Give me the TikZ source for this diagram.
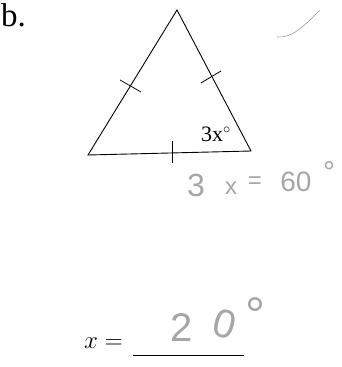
\documentclass[tikz,border=0pt]{standalone}
\usepackage{fontspec}
\setmainfont{Liberation Serif}
\newfontfamily\handfont{Liberation Sans}
\begin{document}
\begin{tikzpicture}[x=1pt,y=-1pt,
  edge/.style={line width=0.9pt},
  tick/.style={line width=0.8pt},
  hand/.style={text=black!35, font=\handfont\fontsize{24}{24}\selectfont, inner sep=0pt}]
\useasboundingbox (0,0) rectangle (342,367);
% vertices
\coordinate (T) at (177,10);
\coordinate (L) at (88,155);
\coordinate (R) at (251,151);
\draw[edge, line join=miter] (T) -- (R) -- (L) -- cycle;
% tick marks
\coordinate (tl1) at (120,80); \coordinate (tl2) at (141,92);
\draw[tick] (tl1) -- (tl2);
\coordinate (tr1) at (201,83); \coordinate (tr2) at (221,71);
\draw[tick] (tr1) -- (tr2);
\coordinate (tb1) at (172,141); \coordinate (tb2) at (172,163);
\draw[tick] (tb1) -- (tb2);
% labels
\node[anchor=west, inner sep=0pt, font=\fontsize{33}{33}\selectfont] (b) at (1,15) {b.};
\node[inner sep=0pt, font=\fontsize{22}{22}\selectfont] (ang) at (216,134) {3x$^{\circ}$};
\node[anchor=base west, inner sep=0pt, font=\fontsize{25}{25}\selectfont] (xeq) at (84,348) {$x =$};
\coordinate (ln1) at (133,355); \coordinate (ln2) at (244,355);
\draw[line width=0.7pt] (ln1) -- (ln2);
% handwriting (faint)
\node[hand, font=\handfont\fontsize{32}{32}\selectfont] (h1a) at (196,185) {3};
\node[hand] (h1b) at (231,188) {x};
\node[hand] (h1c) at (255,183) {=};
\node[hand, font=\handfont\fontsize{28}{28}\selectfont] (h1e) at (296,182) {60};
\node[hand, font=\handfont\fontsize{30}{30}\selectfont] (h1d) at (329,172) {°};
\node[hand, font=\handfont\fontsize{40}{40}\selectfont] (h2) at (182,328) {2};
\node[hand, font=\handfont\fontsize{40}{40}\selectfont, rotate=-15] (h2b) at (225,324) {0};
\node[hand, font=\handfont\fontsize{50}{50}\selectfont] (h3) at (255,315) {°};
\coordinate (s1) at (277,37); \coordinate (s3) at (320,10);
\draw[black!40, line width=0.6pt] (s1) .. controls (292,38) and (302,28) .. (s3);
\end{tikzpicture}
\end{document}
